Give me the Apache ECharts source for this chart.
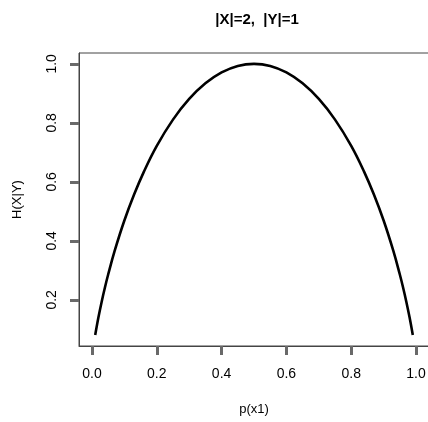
<!DOCTYPE html>
<html>
<head>
<meta charset="utf-8">
<script src="https://cdn.jsdelivr.net/npm/echarts@6/dist/echarts.min.js"></script>
<style>
  html, body { margin: 0; padding: 0; background: #fff; }
  #chart1 { width: 428px; height: 422px; }
</style>
</head>
<body>
<div id="chart1"></div>
<script>
// values
var pValues = [0.01, 0.02, 0.03, 0.04, 0.05, 0.07, 0.10, 0.13, 0.16, 0.20, 0.25, 0.30, 0.35, 0.40, 0.45, 0.50,
               0.55, 0.60, 0.65, 0.70, 0.75, 0.80, 0.84, 0.87, 0.90, 0.93, 0.95, 0.96, 0.97, 0.98, 0.99];
var hValues = [0.081, 0.141, 0.194, 0.242, 0.286, 0.366, 0.469, 0.557, 0.634, 0.722, 0.811, 0.881, 0.934, 0.971, 0.993, 1.000,
               0.993, 0.971, 0.934, 0.881, 0.811, 0.722, 0.634, 0.557, 0.469, 0.366, 0.286, 0.242, 0.194, 0.141, 0.081];
var xTicks = [0, 0.2, 0.4, 0.6, 0.8, 1.0];
var yTicks = [0.2, 0.4, 0.6, 0.8, 1.0];

var myChart = echarts.init(document.getElementById('chart1'));

var points = [];
for (var i = 0; i < pValues.length; i++) {
    points.push([pValues[i], hValues[i]]);
}

var font = 'Liberation Sans, Arial, Helvetica, sans-serif';
var frame = '#444';

option = {
    animation: false,
    title: {
        text: '|X|=2,  |Y|=1',
        left: 252,
        top: 7,
        textAlign: 'center',
        textStyle: { fontFamily: font, fontSize: 15, fontWeight: 'bold', color: '#000' }
    },
    grid: {
        left: 79, right: -1, top: 53, bottom: 76,
        outerBoundsMode: 'none',
        show: true, borderColor: frame, borderWidth: 1
    },
    xAxis: {
        type: 'value',
        min: -0.04, max: 1.04,
        name: 'p(x1)',
        nameLocation: 'middle',
        nameGap: 57,
        nameTextStyle: { fontFamily: font, fontSize: 13, color: '#000' },
        axisLine: { show: true, onZero: false, lineStyle: { color: frame } },
        splitLine: { show: false },
        axisTick: { show: true, length: 9, customValues: xTicks, lineStyle: { color: 'dimgray', width: 3 } },
        axisLabel: {
            customValues: xTicks, margin: 21,
            fontFamily: font, fontSize: 14, color: '#000',
            formatter: function (v) { return v.toFixed(1); }
        }
    },
    yAxis: {
        type: 'value',
        min: 0.0437, max: 1.0368,
        name: 'H(X|Y)',
        nameLocation: 'middle',
        nameGap: 55,
        nameTextStyle: { fontFamily: font, fontSize: 13, color: '#000' },
        axisLine: { show: true, onZero: false, lineStyle: { color: frame } },
        splitLine: { show: false },
        axisTick: { show: true, length: 9, customValues: yTicks, lineStyle: { color: 'dimgray', width: 3 } },
        axisLabel: {
            customValues: yTicks, margin: 20, rotate: 90,
            fontFamily: font, fontSize: 14, color: '#000',
            formatter: function (v) { return v.toFixed(1); }
        }
    },
    series: [
        {
            type: 'line',
            data: points,
            smooth: 0.4,
            showSymbol: false,
            lineStyle: { color: '#000', width: 2.6 }
        }
    ]
};
myChart.setOption(option);
</script>
</body>
</html>
